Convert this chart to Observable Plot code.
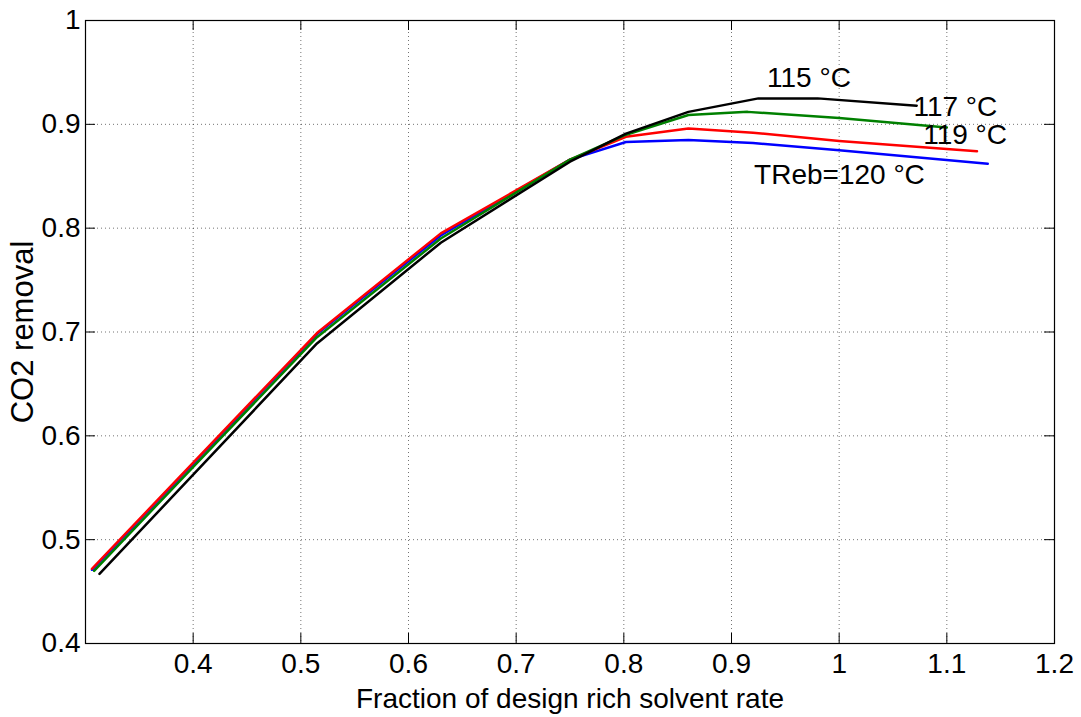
<!DOCTYPE html>
<html>
<head>
<meta charset="utf-8">
<script src="https://cdn.jsdelivr.net/npm/d3@7"></script>
<script src="https://cdn.jsdelivr.net/npm/@observablehq/plot@0.6"></script>
<style>
  html, body { margin: 0; padding: 0; background: #fff; }
  #chart svg { font-family: "Liberation Sans", Arial, sans-serif; }
</style>
</head>
<body>
<div id="chart"></div>
<script>
// ---- data ----
const seriesNames = ["TReb=120 °C", "119 °C", "117 °C", "115 °C"];
const seriesColors = ["#0000ff", "#ff0000", "#008000", "#000000"];

const x120 = [0.306, 0.515, 0.630, 0.750, 0.802, 0.860, 0.920, 1.000, 1.138];
const y120 = [0.471, 0.698, 0.793, 0.866, 0.883, 0.885, 0.882, 0.875, 0.862];

const x119 = [0.306, 0.515, 0.630, 0.750, 0.802, 0.860, 0.920, 1.000, 1.128];
const y119 = [0.472, 0.699, 0.795, 0.866, 0.888, 0.896, 0.892, 0.884, 0.874];

const x117 = [0.308, 0.515, 0.630, 0.750, 0.802, 0.860, 0.915, 1.000, 1.100];
const y117 = [0.470, 0.695, 0.790, 0.866, 0.890, 0.909, 0.912, 0.906, 0.897];

const x115 = [0.313, 0.515, 0.630, 0.750, 0.802, 0.860, 0.925, 0.980, 1.072];
const y115 = [0.467, 0.689, 0.786, 0.864, 0.891, 0.912, 0.925, 0.925, 0.918];

const xTicks = [0.4, 0.5, 0.6, 0.7, 0.8, 0.9, 1.0, 1.1, 1.2];
const yTicks = [0.4, 0.5, 0.6, 0.7, 0.8, 0.9, 1.0];

const labelTexts = ["115 °C", "117 °C", "119 °C", "TReb=120 °C"];
const labelX = [0.933, 1.069, 1.078, 0.921];
const labelY = [0.9335, 0.9047, 0.8777, 0.840];

const xTitle = "Fraction of design rich solvent rate";
const yTitle = "CO2 removal";

// ---- build tables ----
const xs = [x120, x119, x117, x115];
const ys = [y120, y119, y117, y115];
const lineData = [];
xs.forEach((xa, s) => xa.forEach((xv, i) => lineData.push({series: seriesNames[s], x: xv, y: ys[s][i]})));
const labels = labelTexts.map((t, i) => ({text: t, x: labelX[i], y: labelY[i]}));

const W = 1081, H = 717;
const mL = 85, mR = 27, mT = 20, mB = 74;
const plotW = W - mL - mR, plotH = H - mT - mB;
const tickLen = 10;
const fmt = d => String(+d.toFixed(1));

const chart = Plot.plot({
  width: W,
  height: H,
  marginLeft: mL,
  marginRight: mR,
  marginTop: mT,
  marginBottom: mB,
  style: {fontFamily: "Liberation Sans, Arial, sans-serif", color: "#000", background: "#fff"},
  x: {domain: [0.3, 1.2]},
  y: {domain: [0.4, 1.0]},
  color: {domain: seriesNames, range: seriesColors},
  marks: [
    Plot.gridX(xTicks, {stroke: "#000", strokeOpacity: 0.55, strokeDasharray: "1,3"}),
    Plot.gridY(yTicks, {stroke: "#000", strokeOpacity: 0.55, strokeDasharray: "1,3"}),
    // inward tick marks on all four sides
    Plot.tickX(xTicks, {x: d => d, insetTop: plotH - tickLen, stroke: "#000"}),
    Plot.tickX(xTicks, {x: d => d, insetBottom: plotH - tickLen, stroke: "#000"}),
    Plot.tickY(yTicks, {y: d => d, insetRight: plotW - tickLen, stroke: "#000"}),
    Plot.tickY(yTicks, {y: d => d, insetLeft: plotW - tickLen, stroke: "#000"}),
    Plot.axisX(xTicks, {tickSize: 0, tickPadding: 10, fontSize: 28, tickFormat: fmt, label: null}),
    Plot.axisY(yTicks, {tickSize: 0, tickPadding: 5, fontSize: 28, tickFormat: fmt, label: null}),
    Plot.lineY(lineData, {x: "x", y: "y", z: "series", stroke: "series", strokeWidth: 2.5}),
    Plot.text(labels, {x: "x", y: "y", text: "text", textAnchor: "start", lineAnchor: "bottom", dy: -3, fontSize: 28, fill: "#000"}),
    Plot.text([xTitle], {frameAnchor: "bottom", textAnchor: "middle", text: d => d, dy: 64, fontSize: 28, fill: "#000"}),
    Plot.text([yTitle], {frameAnchor: "left", textAnchor: "middle", lineAnchor: "middle", text: d => d, dx: -62, rotate: -90, fontSize: 31, fill: "#000"}),
    Plot.frame({stroke: "#000", strokeWidth: 1.2})
  ]
});
document.getElementById("chart").appendChild(chart);
</script>
</body>
</html>
